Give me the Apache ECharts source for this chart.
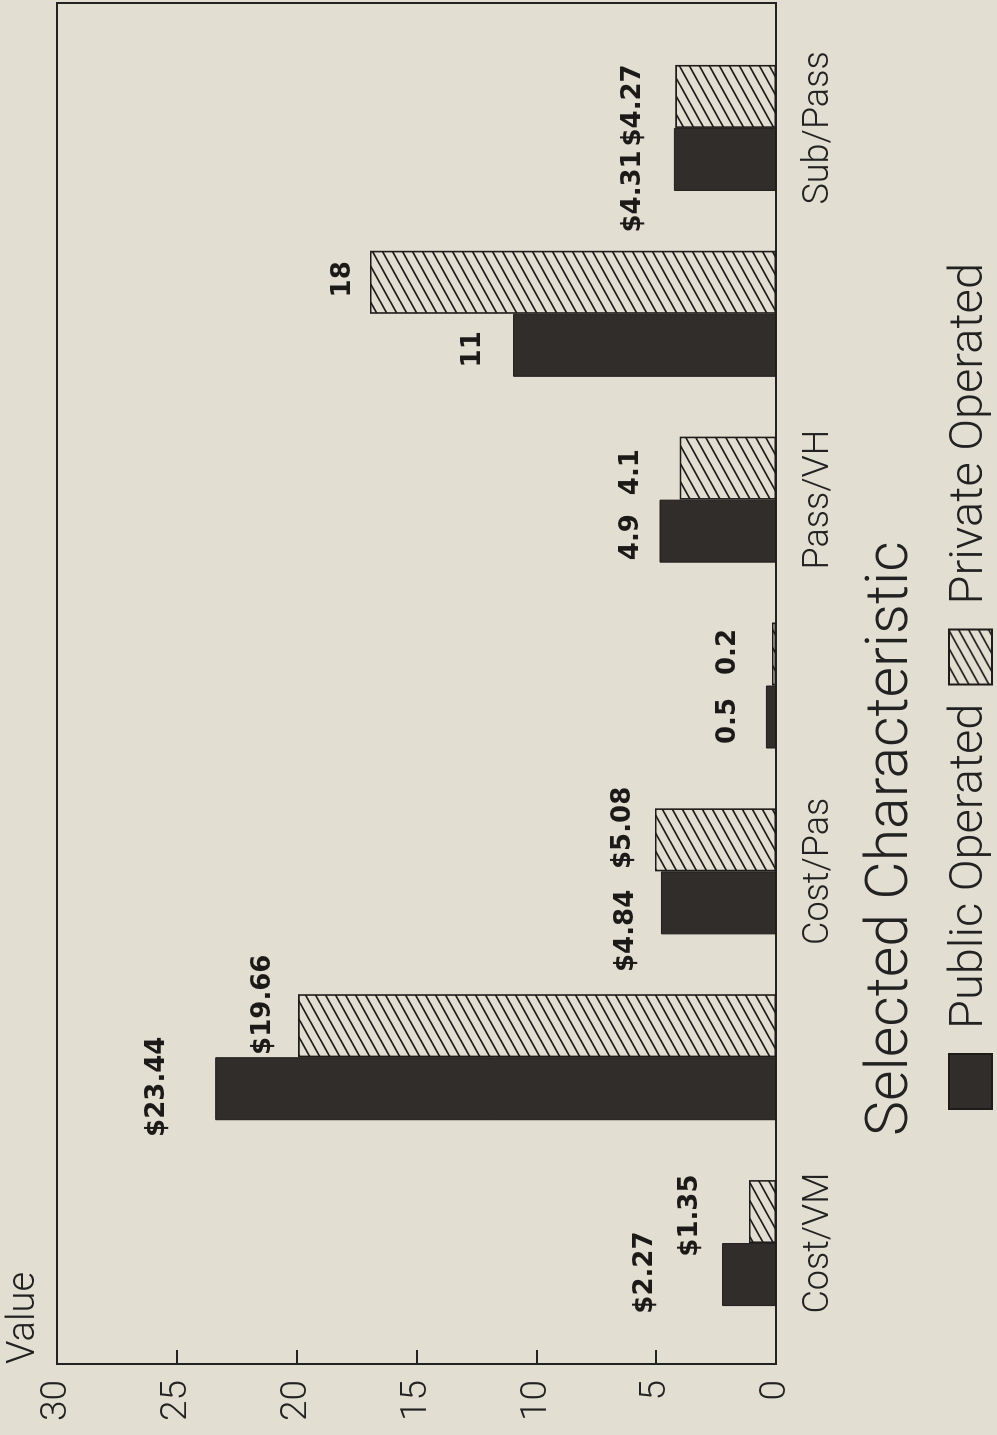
<!DOCTYPE html>
<html>
<head>
<meta charset="utf-8">
<script src="https://cdn.jsdelivr.net/npm/echarts@6/dist/echarts.min.js"></script>
<style>
  html, body { margin: 0; padding: 0; background: #e2ded2; width: 997px; height: 1435px; overflow: hidden; }
  #chart { position: absolute; left: 0; top: 0; width: 1435px; height: 997px;
           transform-origin: 0 0; transform: translate(0px, 1435px) rotate(-90deg); }
</style>
</head>
<body>
<div id="chart"></div>
<script>
// ---- data ----
const categories = ['Cost/VM', 'Cost/VH', 'Cost/Pas', 'Pass/VM', 'Pass/VH', 'Rec Ratio', 'Sub/Pass'];
const publicValues = [2.25, 23.4, 4.8, 0.42, 4.86, 10.97, 4.26];
const privateValues = [1.13, 19.94, 5.05, 0.17, 4.02, 16.94, 4.2];
const publicLabels = ['$2.27', '$23.44', '$4.84', '0.5', '4.9', '11', '$4.31'];
const privateLabels = ['$1.35', '$19.66', '$5.08', '0.2', '4.1', '18', '$4.27'];
const valueMin = 0, valueMax = 30, valueStep = 5;
const seriesNames = ['Public Operated', 'Private Operated'];
const axisTitle = 'Value';
const xTitle = 'Selected Characteristic';

// ---- styling: how far each value label sits from its bar in the original ([dx, gap]) ----
const publicLabelNudge = [[2, 64], [2, 45], [-28, 22], [-4, 25], [-6, 15], [-4, 27], [-32, 28]];
const privateLabelNudge = [[-4, 46], [21, 22], [12, 19], [2, 31], [-4, 35], [3, 14], [-9, 29]];

// ---- hatch pattern ----
function makeHatch() {
  const w = 18, h = 10;
  const c = document.createElement('canvas');
  c.width = w; c.height = h;
  const g = c.getContext('2d');
  g.strokeStyle = '#1e1c1a';
  g.lineWidth = 1.6;
  for (let kx = -1; kx <= 1; kx++) {
    for (let ky = -1; ky <= 1; ky++) {
      g.beginPath();
      g.moveTo(kx * w, h + ky * h);
      g.lineTo(kx * w + w, ky * h);
      g.stroke();
    }
  }
  return c;
}
const hatch = { image: makeHatch(), repeat: 'repeat' };

function withNudges(values, nudges) {
  return values.map((v, i) => ({ value: v, label: { offset: [nudges[i][0], -nudges[i][1]] } }));
}

const lightFont = 'Roboto';
const labelStyle = { fontFamily: 'DejaVu Sans', fontWeight: 'bold', fontSize: 26, color: '#1c1a18' };
const chart = echarts.init(document.getElementById('chart'), null, { renderer: 'canvas' });
const gridTop = 57, gridHeight = 719;

chart.setOption({
  backgroundColor: '#e2ded2',
  animation: false,
  title: {
    text: xTitle, left: 294, top: 858,
    textStyle: { fontFamily: lightFont, fontWeight: 300, fontSize: 59, color: '#222' }
  },
  legend: {
    left: 320, top: 942, itemWidth: 55, itemHeight: 43, itemGap: 18,
    icon: 'rect',
    data: seriesNames,
    textStyle: { fontFamily: lightFont, fontWeight: 300, fontSize: 47, color: '#222', padding: [0, 0, 0, 20] }
  },
  grid: [
    { left: 71, top: gridTop, width: 1361, height: gridHeight, show: true, borderColor: '#222', borderWidth: 2, backgroundColor: 'transparent' },
    { left: 99, top: gridTop, width: 1301, height: gridHeight }
  ],
  xAxis: [
    { gridIndex: 0, type: 'value', show: false, min: 0, max: 1 },
    { gridIndex: 1, type: 'category', data: categories,
      axisLine: { show: false }, axisTick: { show: false },
      axisLabel: { margin: 25, fontFamily: lightFont, fontWeight: 300, fontSize: 36, color: '#222' } }
  ],
  yAxis: [
    { gridIndex: 0, type: 'value', min: valueMin, max: valueMax, interval: valueStep,
      name: axisTitle, nameLocation: 'end', nameGap: 14,
      nameTextStyle: { align: 'left', fontFamily: lightFont, fontWeight: 300, fontSize: 38, color: '#222' },
      splitLine: { show: false },
      axisLine: { show: true, lineStyle: { color: '#222', width: 2 } },
      axisTick: { show: true, inside: true, length: 14, lineStyle: { color: '#222', width: 2 } },
      axisLabel: { margin: 16, fontFamily: lightFont, fontWeight: 300, fontSize: 37, color: '#222' } },
    { gridIndex: 1, type: 'value', min: valueMin, max: valueMax, interval: valueStep, show: false, splitLine: { show: false } }
  ],
  series: [
    { name: seriesNames[0], type: 'bar', xAxisIndex: 1, yAxisIndex: 1, data: withNudges(publicValues, publicLabelNudge),
      barWidth: 63, barGap: '0%',
      itemStyle: { color: '#302d2a', borderColor: '#1e1c1a', borderWidth: 1 },
      label: Object.assign({ show: true, position: 'top', distance: 0,
        formatter: p => publicLabels[p.dataIndex] }, labelStyle) },
    { name: seriesNames[1], type: 'bar', xAxisIndex: 1, yAxisIndex: 1, data: withNudges(privateValues, privateLabelNudge),
      barWidth: 63, barGap: '0%',
      itemStyle: { color: hatch, borderColor: '#1e1c1a', borderWidth: 1.6 },
      label: Object.assign({ show: true, position: 'top', distance: 0,
        formatter: p => privateLabels[p.dataIndex] }, labelStyle) }
  ]
});
</script>
</body>
</html>
